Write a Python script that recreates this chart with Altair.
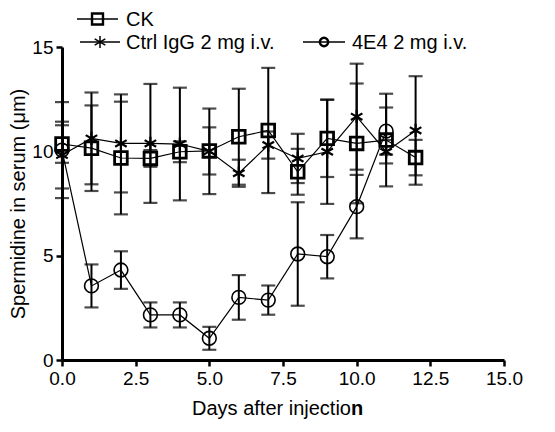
import altair as alt
import pandas as pd

# ---- data ----
series_names = ["CK", "Ctrl IgG 2 mg i.v.", "4E4 2 mg i.v."]

ck_days = list(range(13))
ck_mean = [10.35, 10.15, 9.68, 9.66, 9.98, 10.02, 10.7, 11.0, 9.02, 10.62, 10.38, 10.54, 9.7]
ck_err = [0.9, 2.05, 2.7, 0.4, 0.5, 1.13, 2.3, 3.0, 1.1, 1.85, 2.87, 2.22, 0.85]

ctrl_days = list(range(13))
ctrl_mean = [9.82, 10.62, 10.38, 10.38, 10.35, 10.0, 8.95, 10.3, 9.66, 9.98, 11.66, 9.98, 11.0]
ctrl_err = [1.6, 2.2, 2.35, 2.85, 2.7, 2.05, 0.65, 0.65, 1.18, 2.5, 2.54, 0.56, 2.6]

e4_days = list(range(12))
e4_mean = [10.06, 3.55, 4.31, 2.16, 2.16, 1.04, 3.0, 2.87, 5.08, 4.95, 7.35, 10.97]
e4_err = [2.3, 1.03, 0.9, 0.6, 0.6, 0.55, 1.07, 0.7, 2.48, 1.04, 1.52, 1.13]

x_ticks = [0, 2.5, 5, 7.5, 10, 12.5, 15]
y_ticks = [0, 5, 10, 15]

STAR = "M0,-1L0,1M-0.87,-0.5L0.87,0.5M-0.87,0.5L0.87,-0.5"
shapes = ["square", STAR, "circle"]
sizes = [160, 190, 110]
widths = [2.8, 1.6, 2.6]

rows = []
for name, ds, ms, es in [
    (series_names[0], ck_days, ck_mean, ck_err),
    (series_names[1], ctrl_days, ctrl_mean, ctrl_err),
    (series_names[2], e4_days, e4_mean, e4_err),
]:
    for d, m, e in zip(ds, ms, es):
        rows.append({"series": name, "day": d, "mean": m, "lo": m - e, "hi": m + e})
df = pd.DataFrame(rows)

FONT = "Liberation Sans"

xs = alt.Scale(domain=[0, 15], nice=False)
ys = alt.Scale(domain=[0, 15], nice=False)
x_axis = alt.Axis(values=x_ticks, format=".1f", title=None, labelFlush=False)
y_axis = alt.Axis(values=y_ticks, title="Spermidine in serum (μm)", format="d", labelFlush=False)

X = alt.X("day:Q", scale=xs, axis=x_axis)

base = alt.Chart(df)

lines = base.mark_line(color="black", strokeWidth=1.2).encode(
    x=X, y=alt.Y("mean:Q", scale=ys, axis=y_axis), detail="series:N"
)
rules = base.mark_rule(color="black", strokeWidth=2).encode(
    x=X, y=alt.Y("lo:Q", scale=ys, axis=y_axis), y2="hi:Q"
)
cap_lo = base.mark_tick(orient="horizontal", color="black", size=14, thickness=2.2).encode(
    x=X, y=alt.Y("lo:Q", scale=ys, axis=y_axis)
)
cap_hi = base.mark_tick(orient="horizontal", color="black", size=14, thickness=2.2).encode(
    x=X, y=alt.Y("hi:Q", scale=ys, axis=y_axis)
)
points = base.mark_point(filled=False, color="black", opacity=1).encode(
    x=X,
    y=alt.Y("mean:Q", scale=ys, axis=y_axis),
    shape=alt.Shape("series:N", scale=alt.Scale(domain=series_names, range=shapes), legend=None),
    size=alt.Size("series:N", scale=alt.Scale(domain=series_names, range=sizes), legend=None),
    strokeWidth=alt.StrokeWidth("series:N", scale=alt.Scale(domain=series_names, range=widths), legend=None),
)

# ---- manual legend (layout positions in pixels relative to plot area) ----
legend_layout = [
    # name, line x0, line x1, y, text x, shape, size, stroke width
    (series_names[0], 15, 56, -28, 64, "square", 120, 2.4),
    (series_names[1], 18, 58, -5, 64, STAR, 150, 1.5),
    (series_names[2], 241, 283, -5, 290, "circle", 70, 2.4),
]
legend_layers = []
for name, x0, x1, yy, tx, shp, sz, sw in legend_layout:
    ldf = pd.DataFrame({"label": [name]})
    lc = alt.Chart(ldf)
    legend_layers.append(
        lc.mark_rule(color="black", strokeWidth=1.6).encode(
            x=alt.value(x0), x2=alt.value(x1), y=alt.value(yy)
        )
    )
    legend_layers.append(
        lc.mark_point(filled=False, strokeWidth=sw, color="black", opacity=1, shape=shp, size=sz).encode(
            x=alt.value((x0 + x1) / 2), y=alt.value(yy)
        )
    )
    legend_layers.append(
        lc.mark_text(align="left", baseline="middle", fontSize=20, font=FONT, color="black").encode(
            x=alt.value(tx), y=alt.value(yy + 1), text="label:N"
        )
    )

# ---- x-axis title with bold final letter ----
title_df = pd.DataFrame({"a": ["Days after injectio"], "b": ["n"]})
tchart = alt.Chart(title_df)
t1 = tchart.mark_text(align="right", baseline="middle", fontSize=20, font=FONT, color="black").encode(
    x=alt.value(289), y=alt.value(362), text="a:N"
)
t2 = tchart.mark_text(align="left", baseline="middle", fontSize=20, font=FONT, color="black", fontWeight="bold").encode(
    x=alt.value(289), y=alt.value(362), text="b:N"
)

chart = alt.layer(lines, rules, cap_lo, cap_hi, points, *legend_layers, t1, t2).properties(
    width=442,
    height=313,
    autosize=alt.AutoSizeParams(type="none"),
    padding={"left": 54, "top": 39, "right": 38, "bottom": 62},
).configure_view(stroke=None).configure_axis(
    grid=False,
    domainColor="black",
    domainWidth=3,
    tickColor="black",
    tickWidth=2.5,
    tickSize=6,
    labelColor="black",
    labelFont=FONT,
    labelFontSize=19,
    labelPadding=3,
    titleFont=FONT,
    titleFontSize=20,
    titleFontWeight="normal",
    titleColor="black",
    titlePadding=3,
)

chart.save("out.html", embed_options={"renderer": "svg", "actions": False})
